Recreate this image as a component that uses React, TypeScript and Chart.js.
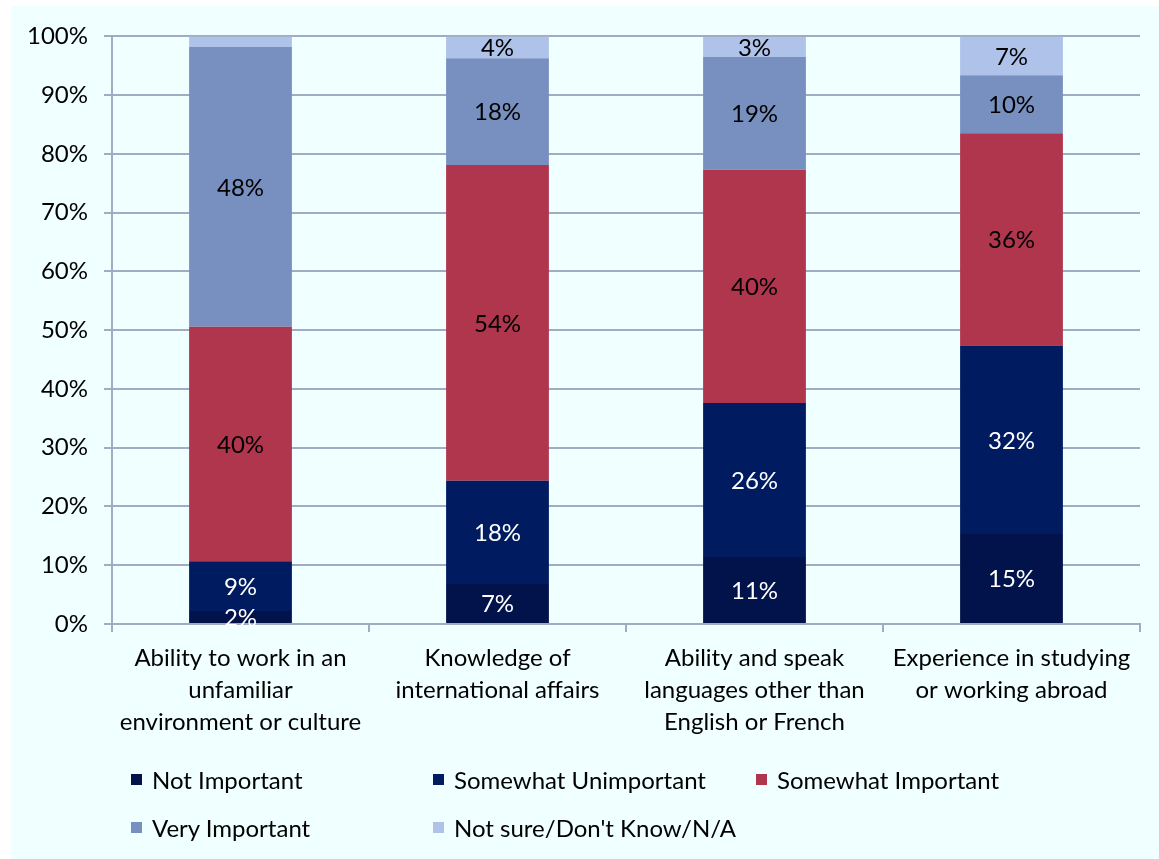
import React, { useEffect, useRef } from "react";
import { Chart, registerables } from "chart.js";

Chart.register(...registerables);

const categories: string[][] = [
  ["Ability to work in an", "unfamiliar", "environment or culture"],
  ["Knowledge of", "international affairs"],
  ["Ability and speak", "languages other than", "English or French"],
  ["Experience in studying", "or working abroad"],
];

const seriesNames = [
  "Not Important",
  "Somewhat Unimportant",
  "Somewhat Important",
  "Very Important",
  "Not sure/Don't Know/N/A",
];

const notImportant = [2.2, 6.8, 11.4, 15.3];
const somewhatUnimportant = [8.5, 17.6, 26.2, 32.1];
const somewhatImportant = [39.9, 53.7, 39.7, 36.1];
const veryImportant = [47.6, 18.2, 19.2, 9.9];
const notSure = [1.8, 3.7, 3.4, 6.6];

const seriesColors = ["#02124A", "#001B60", "#B0364E", "#7890C0", "#AEC2EA"];
const labelColors = ["#FFFFFF", "#FFFFFF", "#000000", "#000000", "#000000"];
// bar 1 "not sure" segment carries no label in the original
const hiddenLabels: Record<string, boolean> = { "4-0": true };

const yTicks = [0, 10, 20, 30, 40, 50, 60, 70, 80, 90, 100];

const FONT = "Lato, 'Open Sans', sans-serif";
const FS = 24;
const GRID = "#A3ABC2";

const dataLabelPlugin = {
  id: "segLabels",
  afterDatasetsDraw(chart: any) {
    const ctx = chart.ctx;
    ctx.save();
    ctx.font = `${FS}px ${FONT}`;
    ctx.textAlign = "center";
    ctx.textBaseline = "middle";
    chart.data.datasets.forEach((ds: any, di: number) => {
      const meta = chart.getDatasetMeta(di);
      meta.data.forEach((bar: any, i: number) => {
        if (hiddenLabels[`${di}-${i}`]) return;
        const v = ds.data[i];
        const y = (bar.y + bar.base) / 2;
        ctx.fillStyle = labelColors[di];
        ctx.fillText(`${Math.round(v)}%`, bar.x, y + 1);
      });
    });
    ctx.restore();
  },
};

export default function App() {
  const ref = useRef<HTMLCanvasElement>(null);
  useEffect(() => {
    if (!ref.current) return;
    const values = [notImportant, somewhatUnimportant, somewhatImportant, veryImportant, notSure];
    const chart = new Chart(ref.current, {
      type: "bar",
      data: {
        labels: categories,
        datasets: values.map((d, i) => ({
          label: seriesNames[i],
          data: d,
          backgroundColor: seriesColors[i],
          borderWidth: 0,
          categoryPercentage: 0.4,
          barPercentage: 1,
        })),
      },
      options: {
        responsive: false,
        animation: false,
        maintainAspectRatio: false,
        layout: { padding: { top: 27, right: 19, bottom: 125, left: 0 } },
        plugins: { legend: { display: false }, tooltip: { enabled: false } },
        scales: {
          x: {
            stacked: true,
            afterFit: (s: any) => {
              s.height = 110;
            },
            grid: {
              drawOnChartArea: false,
              drawTicks: true,
              tickLength: 8,
              color: GRID,
              lineWidth: 2,
              offset: true,
            },
            border: { color: GRID, width: 2 },
            ticks: {
              color: "#000",
              font: { family: FONT, size: FS, lineHeight: 1.33 },
              padding: 10,
              maxRotation: 0,
              autoSkip: false,
            },
          },
          y: {
            stacked: true,
            min: 0,
            max: 100,
            afterFit: (s: any) => {
              s.width = 101;
            },
            afterBuildTicks: (s: any) => {
              s.ticks = yTicks.map((v) => ({ value: v }));
            },
            grid: {
              color: GRID,
              lineWidth: 2,
              tickLength: 8,
            },
            border: { color: GRID, width: 2 },
            ticks: {
              color: "#000",
              font: { family: FONT, size: FS },
              padding: 16,
              callback: (v: any) => `${v}%`,
            },
          },
        },
      },
      plugins: [dataLabelPlugin],
    });
    return () => chart.destroy();
  }, []);

  const legendPos = [
    [120, 773],
    [422, 773],
    [745, 773],
    [120, 821],
    [422, 821],
  ];

  return (
    <div
      style={{
        position: "absolute",
        left: 11,
        top: 6,
        width: 1148,
        height: 853,
        background: "#F0FFFF",
        fontFamily: FONT,
      }}
    >
      <canvas ref={ref} width={1148} height={853} style={{ display: "block" }} />
      {seriesNames.map((n, i) => (
        <div
          key={n}
          style={{
            position: "absolute",
            left: legendPos[i][0],
            top: legendPos[i][1] - 16,
            height: 32,
            display: "flex",
            alignItems: "center",
            fontSize: FS,
            color: "#000",
            whiteSpace: "nowrap",
          }}
        >
          <span
            style={{
              display: "inline-block",
              width: 11,
              height: 11,
              background: seriesColors[i],
              marginRight: 10,
            }}
          />
          {n}
        </div>
      ))}
    </div>
  );
}
